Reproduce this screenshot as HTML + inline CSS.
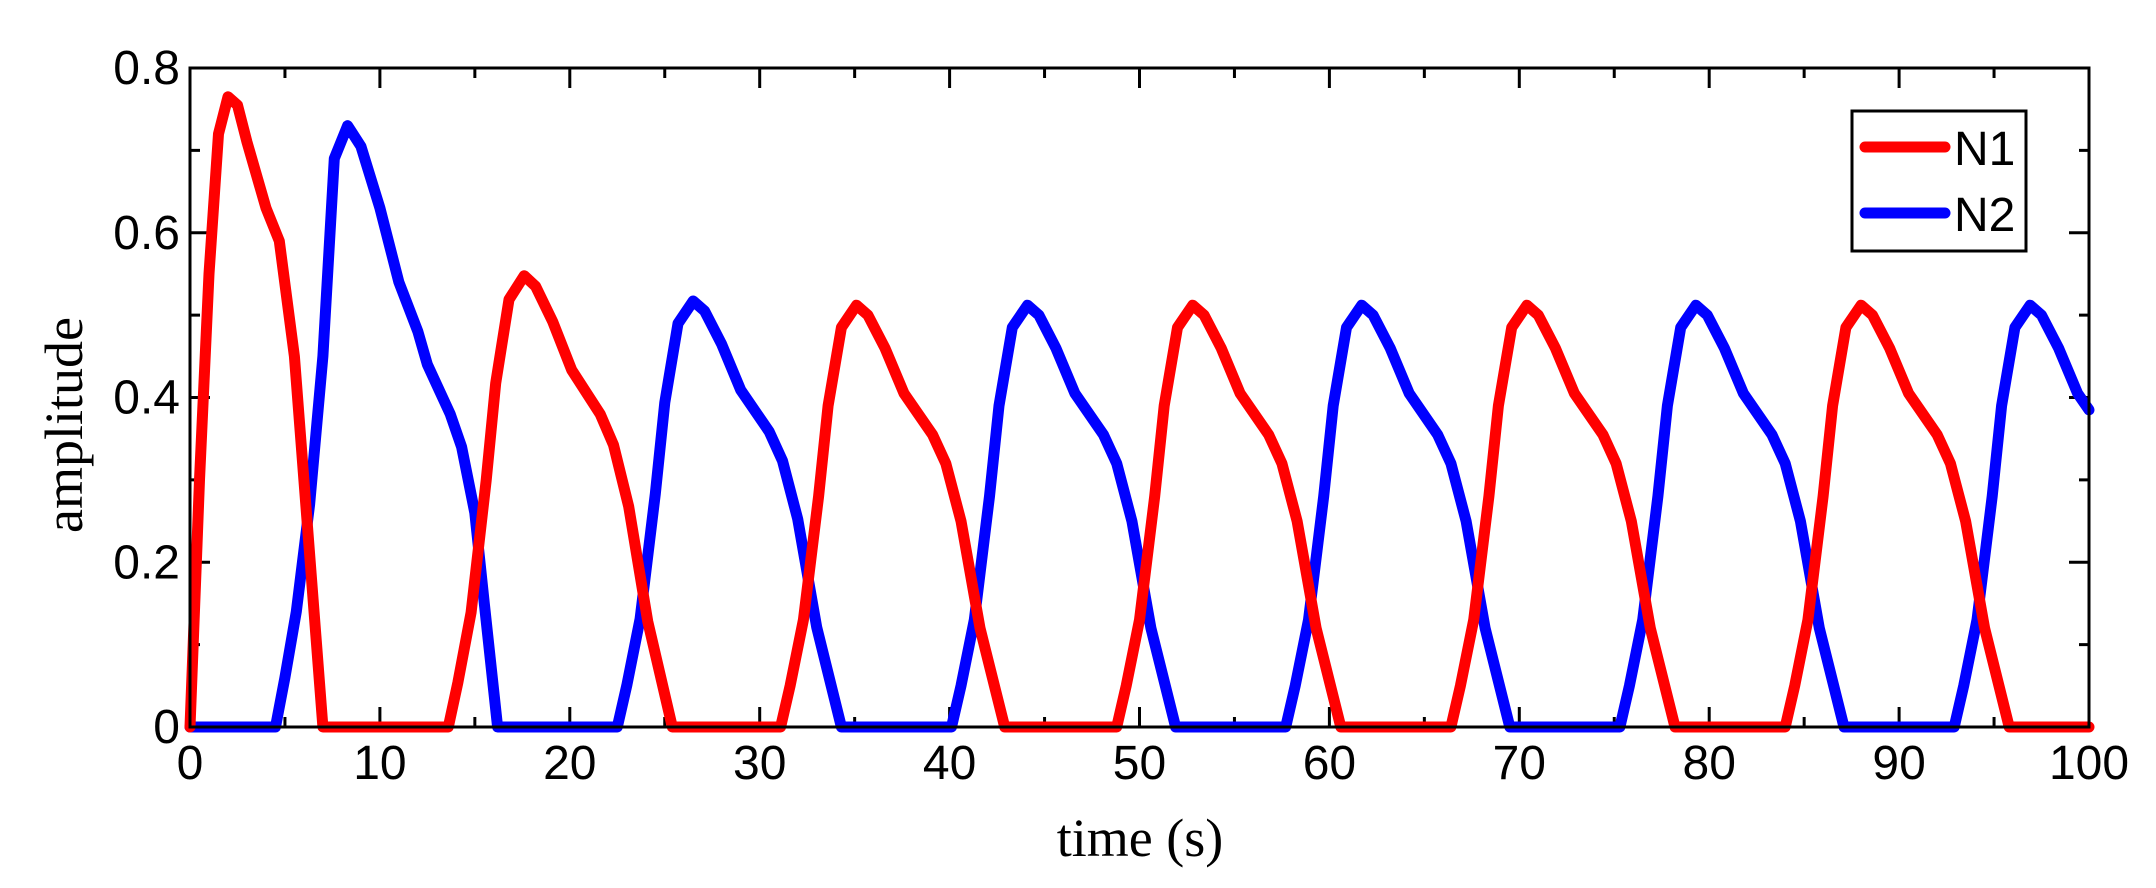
<!DOCTYPE html>
<html><head><meta charset="utf-8"><style>
html,body{margin:0;padding:0;background:#fff;}
svg{display:block;}
.t{font-family:"Liberation Sans",sans-serif;font-size:48px;fill:#000;}
.s{font-family:"Liberation Serif",serif;font-size:54px;fill:#000;}
</style></head><body>
<svg id="c" width="2156" height="888" xmlns="http://www.w3.org/2000/svg">
<rect width="2156" height="888" fill="#fff"/>
<g id="ticks" stroke="#000" stroke-width="3"></g>
<g id="series" fill="none" stroke-width="11" stroke-linejoin="round" stroke-linecap="round"></g>
<rect x="190" y="68" width="1899" height="659" fill="none" stroke="#000" stroke-width="3"/>
<g id="labels"></g>
<text class="s" x="1140" y="856" text-anchor="middle">time (s)</text>
<text class="s" transform="translate(64,425) rotate(-90)" text-anchor="middle" dominant-baseline="central">amplitude</text>
<rect x="1852" y="111" width="174" height="140" fill="#fff" stroke="#000" stroke-width="3"/>
<line x1="1865" y1="147" x2="1945" y2="147" stroke="#f00" stroke-width="11" stroke-linecap="round"/>
<line x1="1865" y1="213" x2="1945" y2="213" stroke="#00f" stroke-width="11" stroke-linecap="round"/>
<text class="t" x="1954" y="165">N1</text>
<text class="t" x="1954" y="231">N2</text>
</svg>
<script>
var X=function(t){return 190+t*18.99},Y=function(v){return 727-v*823.75};
var ns="http://www.w3.org/2000/svg";
function el(tag,attrs,parent,txt){var e=document.createElementNS(ns,tag);for(var k in attrs)e.setAttribute(k,attrs[k]);if(txt)e.textContent=txt;parent.appendChild(e);return e;}
var tk=document.getElementById('ticks'),lb=document.getElementById('labels');
for(var t=0;t<=100;t+=5){var L=(t%10==0)?20:10;var x=X(t);
 el('line',{x1:x,y1:727,x2:x,y2:727-L},tk);el('line',{x1:x,y1:68,x2:x,y2:68+L},tk);
 if(t%10==0)el('text',{x:x,y:779,'text-anchor':'middle','class':'t'},lb,String(t));}
for(var i=0;i<=8;i++){var v=i/10,y=Y(v),L=(i%2==0)?20:10;
 el('line',{x1:190,y1:y,x2:190+L,y2:y},tk);el('line',{x1:2089,y1:y,x2:2089-L,y2:y},tk);
 if(i%2==0)el('text',{x:180,y:y+16,'text-anchor':'end','class':'t'},lb,i==0?'0':v.toFixed(1));}
var shape=[[0,0],[0.5,0.05],[1.2,0.13],[2,0.28],[2.5,0.39],[3.2,0.485],[4,0.512],[4.6,0.5],[5.5,0.46],[6.5,0.405],[8,0.355],[8.7,0.32],[9.5,0.25],[10.5,0.12],[11.8,0]];
function build(first,starts,scales){var pts=first.slice();
 starts.forEach(function(s,j){var k=scales[j]||1;shape.forEach(function(p){pts.push([s+p[0],p[1]*k]);});});
 var out=[];pts.forEach(function(p){if(p[0]>100)return;out.push(p);});
 for(var i=0;i<pts.length-1;i++){if(pts[i][0]<=100&&pts[i+1][0]>100){var a=pts[i],b=pts[i+1];var f=(100-a[0])/(b[0]-a[0]);out.push([100,a[1]+f*(b[1]-a[1])]);break;}}
 if(out[out.length-1][0]<100)out.push([100,0]);
 return out.map(function(p){return X(p[0]).toFixed(1)+','+Y(p[1]).toFixed(1)}).join(' ');}
var red1=[[0,0],[0.5,0.3],[1,0.55],[1.5,0.72],[2,0.765],[2.5,0.755],[3,0.71],[4,0.63],[4.7,0.59],[5.5,0.45],[6,0.3],[7,0]];
var blue1=[[0,0],[4.5,0],[5,0.06],[5.6,0.14],[6.3,0.27],[7,0.45],[7.6,0.69],[8.3,0.73],[9,0.705],[10,0.63],[11,0.54],[12,0.48],[12.5,0.44],[13.7,0.38],[14.3,0.34],[15,0.26],[15.5,0.15],[16.2,0]];
var se=document.getElementById('series');
el('polyline',{points:build(blue1,[22.5,40.1,57.7,75.3,92.9],[1.01,1,1,1,1]),stroke:'#00f'},se);
el('polyline',{points:build(red1,[13.6,31.1,48.8,66.4,84.0],[1.07,1,1,1,1]),stroke:'#f00'},se);
</script>
</body></html>
